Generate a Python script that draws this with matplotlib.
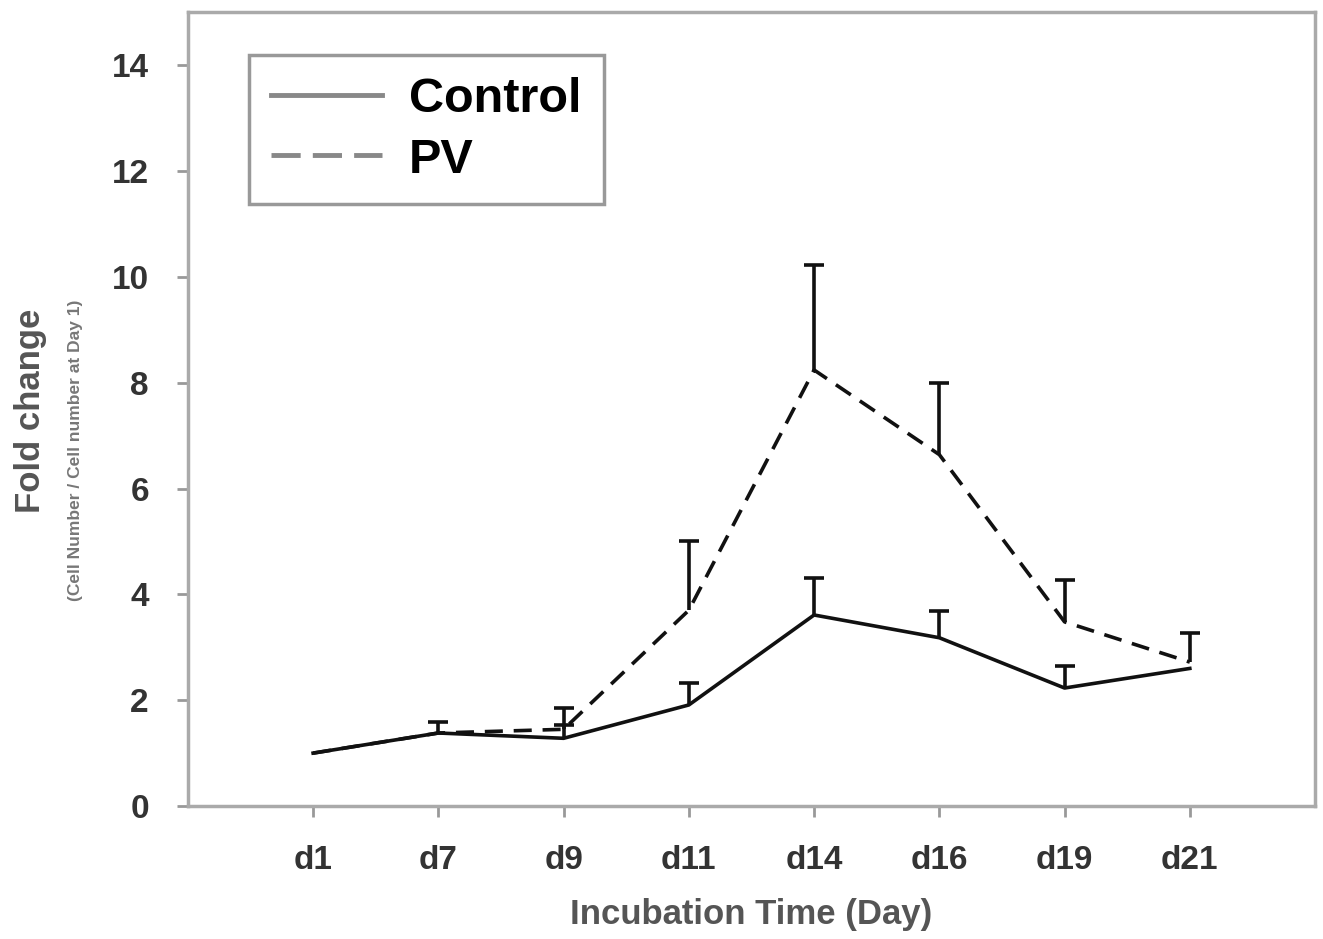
import matplotlib
matplotlib.use("Agg")
import matplotlib.pyplot as plt
import numpy as np

days = ["d1", "d7", "d9", "d11", "d14", "d16", "d19", "d21"]
control = [1.0, 1.38, 1.28, 1.91, 3.61, 3.18, 2.23, 2.60]
control_err = [0.0, 0.21, 0.25, 0.42, 0.70, 0.51, 0.41, 0.0]
pv = [1.0, 1.38, 1.45, 3.70, 8.24, 6.64, 3.48, 2.72]
pv_err = [0.0, 0.0, 0.40, 1.30, 1.99, 1.36, 0.79, 0.55]

plt.rcParams.update({"font.family": "Liberation Sans", "font.weight": "bold"})

fig = plt.figure(figsize=(13.23, 9.39), dpi=100)
ax = fig.add_axes([0.142, 0.1416, 0.852, 0.8454])
x = np.arange(len(days))


def upper_err(vals, err, ls):
    ax.plot(x, vals, color="#111111", lw=2.6, linestyle=ls)
    keep = np.array(err) > 0
    xs, ys, es = x[keep], np.array(vals)[keep], np.array(err)[keep]
    _, caps, _ = ax.errorbar(xs, ys, yerr=[np.zeros(len(xs)), es], fmt="none",
                             ecolor="#111111", elinewidth=2.6, capsize=7,
                             capthick=2.6)
    # only keep the cap on top of each bar
    for c in caps:
        if np.allclose(c.get_ydata(), ys):
            c.set_visible(False)


upper_err(control, control_err, "-")
upper_err(pv, pv_err, (0, (5, 3)))

ax.set_xlim(-1, 8)
ax.set_ylim(0, 15)
ax.set_xticks(x)
ax.set_xticklabels(days)
ax.set_yticks(range(0, 15, 2))

for s in ax.spines.values():
    s.set_color("#aaaaaa")
    s.set_linewidth(2.5)
ax.tick_params(axis="both", colors="#999999", width=2, length=8,
               labelcolor="#333333", labelsize=24, pad=20)

ax.set_xlabel("Incubation Time (Day)", fontsize=25, fontweight="bold",
              color="#555555", labelpad=16)
fig.text(0.023, 0.563, "Fold change", rotation=90, fontsize=25, color="#555555",
         ha="center", va="center", fontweight="bold")
fig.text(0.057, 0.52, "(Cell Number / Cell number at Day 1)", rotation=90,
         fontsize=12.5, color="#777777", ha="center", va="center")

leg_lines = [plt.Line2D([], [], color="#888888", lw=3.5),
             plt.Line2D([], [], color="#888888", lw=3.5, linestyle=(0, (6, 2.5)))]
leg = ax.legend(leg_lines, ["Control", "PV"], loc="upper left",
                bbox_to_anchor=(0.054, 0.946), borderaxespad=0, fancybox=False,
                fontsize=35, handlelength=2.3, handletextpad=0.55,
                labelspacing=0.32, borderpad=0.45, framealpha=1)
leg.get_frame().set_edgecolor("#999999")
leg.get_frame().set_linewidth(2.5)

fig.savefig("out.png", dpi=100)
